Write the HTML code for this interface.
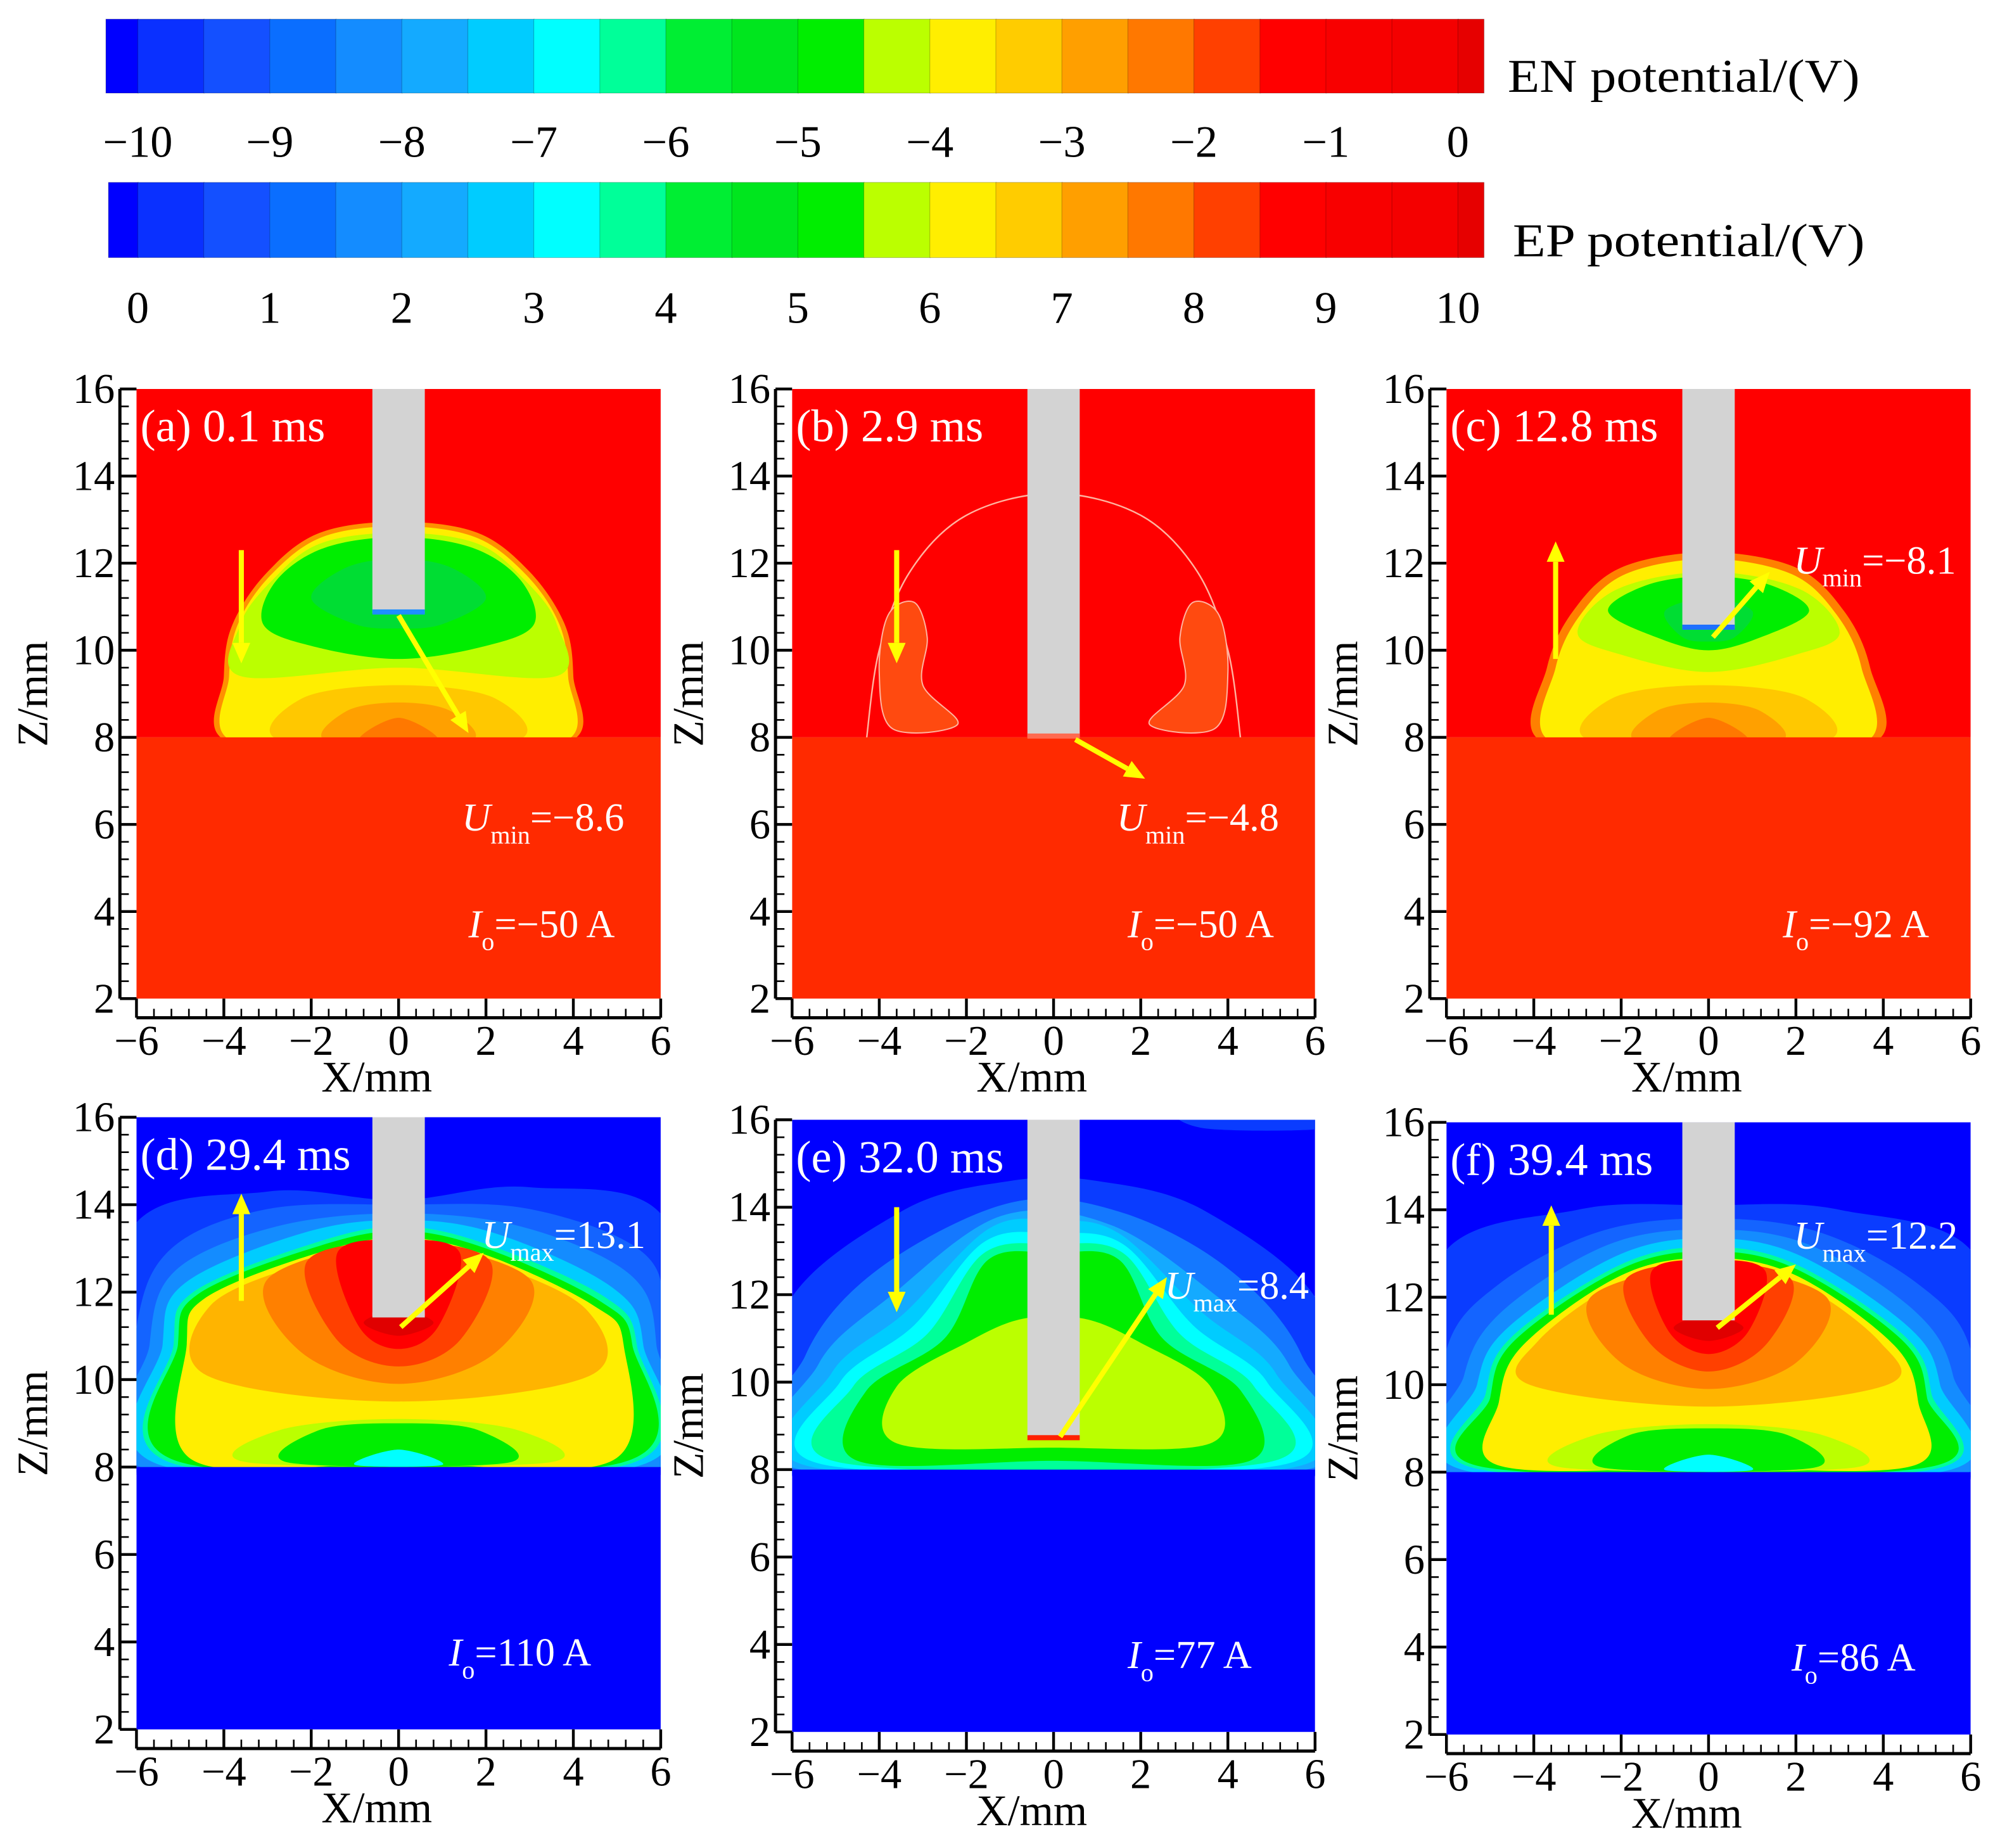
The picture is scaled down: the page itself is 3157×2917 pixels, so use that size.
<!DOCTYPE html>
<html><head><meta charset="utf-8"><style>
html,body{margin:0;padding:0;background:#fff;}
svg{display:block;font-family:"Liberation Serif",serif;}
</style></head><body>
<svg id="fig" width="3157" height="2917" viewBox="0 0 1568 1449" preserveAspectRatio="none" xmlns="http://www.w3.org/2000/svg"></svg>
<script>
// ---------- data ----------
const cbColors = ['#0000ff','#0a30ff','#1450ff','#0a6eff','#148cff','#14aaff','#00ccff','#00ffff','#00ff99','#00ee33','#00e61e','#00ee00','#bbff00','#ffee00','#ffcc00','#ff9f00','#ff7800','#ff4000','#ff0000','#f80000','#f40000','#e60000'];
const cbBounds = [-10.25,-10,-9.5,-9,-8.5,-8,-7.5,-7,-6.5,-6,-5.5,-5,-4.5,-4,-3.5,-3,-2.5,-2,-1.5,-1,-0.5,0,0.25];
const enTicks = [-10,-9,-8,-7,-6,-5,-4,-3,-2,-1,0];
const epTicks = [0,1,2,3,4,5,6,7,8,9,10];
const xTicks = [-6,-4,-2,0,2,4,6];
const zTicks = [2,4,6,8,10,12,14,16];

const layersA = [
 ['#ff9000',[[-3.9,7.9],[-4.0,9.4],[-3.8,10.6],[-3.0,11.8],[-1.8,12.7],[0,12.95],[1.8,12.7],[3.0,11.8],[3.8,10.6],[4.0,9.4],[3.9,7.9],[0,7.8]]],
 ['#ffee00',[[-3.78,7.9],[-3.88,9.4],[-3.68,10.6],[-2.93,11.72],[-1.75,12.6],[0,12.85],[1.75,12.6],[2.93,11.72],[3.68,10.6],[3.88,9.4],[3.78,7.9],[0,7.8]]],
 ['#bbff00',[[-3.6,9.4],[-3.62,10.6],[-2.9,11.6],[-1.8,12.45],[0,12.7],[1.8,12.45],[2.9,11.6],[3.62,10.6],[3.6,9.4],[0,9.6]]],
 ['#00ee00',[[-3.1,10.6],[-2.8,11.6],[-1.7,12.35],[0,12.6],[1.7,12.35],[2.8,11.6],[3.1,10.6],[2,10.1],[0,9.8],[-2,10.1]]],
 ['#00dd33',[[-2.0,11.2],[-1.2,11.9],[0,12.1],[1.2,11.9],[2.0,11.2],[1,10.6],[0,10.5],[-1,10.6]]],
 ['#ffc800',[[-2.6,7.9],[-2.2,8.9],[0,9.2],[2.2,8.9],[2.6,7.9]]],
 ['#ffa000',[[-1.6,7.9],[-1.2,8.6],[0,8.8],[1.2,8.6],[1.6,7.9]]],
 ['#ff7800',[[-0.9,7.9],[0,8.45],[0.9,7.9]]]
];
const layersB = [
 ['#ff4a10',[[-3.7,8.2],[-4.0,9.5],[-3.8,10.8],[-3.2,11.1],[-2.9,10.3],[-3.0,9.2],[-2.2,8.3]]],
 ['#ff4a10',[[3.7,8.2],[4.0,9.5],[3.8,10.8],[3.2,11.1],[2.9,10.3],[3.0,9.2],[2.2,8.3]]]
];
const layersC = [
 ['#ff8000',[[-3.8,7.9],[-3.7,9.6],[-3.1,10.9],[-2,11.9],[0,12.25],[2,11.9],[3.1,10.9],[3.7,9.6],[3.8,7.9],[0,7.8]]],
 ['#ffee00',[[-3.6,7.9],[-3.5,9.6],[-2.93,10.82],[-1.9,11.75],[0,12.1],[1.9,11.75],[2.93,10.82],[3.5,9.6],[3.6,7.9],[0,7.8]]],
 ['#bbff00',[[-3.0,10.4],[-2.1,11.4],[0,11.8],[2.1,11.4],[3.0,10.4],[2,9.9],[0,9.5],[-2,9.9]]],
 ['#00ee00',[[-2.3,10.9],[-1.4,11.5],[0,11.7],[1.4,11.5],[2.3,10.9],[1.2,10.3],[0,10.0],[-1.2,10.3]]],
 ['#00dd33',[[-1.0,10.9],[0,11.2],[1.0,10.9],[0.6,10.3],[0,10.2],[-0.6,10.3]]],
 ['#ffc800',[[-2.6,7.9],[-2.2,8.9],[0,9.2],[2.2,8.9],[2.6,7.9]]],
 ['#ffa000',[[-1.6,7.9],[-1.2,8.6],[0,8.8],[1.2,8.6],[1.6,7.9]]],
 ['#ff7800',[[-0.9,7.9],[0,8.45],[0.9,7.9]]]
];
const layersD = [
 ['#0a3cff',[[-6.2,7.9],[-6.2,13.3],[-3,14.3],[0,14.1],[3,14.4],[6.2,13.5],[6.2,7.9]]],
 ['#1464ff',[[-6.1,7.9],[-6.0,11.2],[-5.2,13.0],[-3,13.9],[0,14.0],[3,13.9],[5.6,12.9],[6.1,11.2],[6.1,7.9]]],
 ['#148cff',[[-5.6,7.9],[-5.7,10.8],[-5.1,12.5],[-2.8,13.5],[0,13.8],[2.8,13.5],[5.3,12.4],[5.9,10.8],[5.7,7.9]]],
 ['#00ccff',[[-5.3,8.0],[-5.4,10.8],[-4.9,12.2],[-2.2,13.35],[0,13.65],[2.2,13.35],[4.9,12.1],[5.6,10.8],[5.4,8.0]]],
 ['#00ff99',[[-5.05,8.05],[-5.15,10.8],[-4.7,12.0],[-2,13.1],[0,13.5],[2,13.1],[4.7,11.9],[5.45,10.8],[5.2,8.05]]],
 ['#00ee00',[[-4.95,8.1],[-5.05,10.8],[-4.6,11.95],[-2,13.0],[0,13.4],[2,13.0],[4.6,11.8],[5.35,10.8],[5.1,8.1]]],
 ['#ffee00',[[-4.7,8.15],[-4.85,10.8],[-4.45,11.85],[-2,12.85],[0,13.25],[2,12.85],[4.45,11.7],[5.15,10.8],[4.9,8.15],[0,8.1]]],
 ['#ffb400',[[-4.4,10.1],[-4.3,11.7],[-2,12.7],[0,13.1],[2,12.7],[4.3,11.6],[4.4,10.1],[0,9.5]]],
 ['#ff8000',[[-3.0,12.3],[-2.2,10.6],[0,9.9],[2.2,10.6],[3.0,12.3],[0,13.1]]],
 ['#ff4000',[[-2.1,12.7],[-1.4,10.9],[0,10.3],[1.4,10.9],[2.1,12.7],[0,13.15]]],
 ['#ff0000',[[-1.4,12.9],[-0.9,11.2],[0,10.7],[0.9,11.2],[1.4,12.9],[0,13.2]]],
 ['#e00000',[[-0.8,11.3],[0,11.0],[0.8,11.3],[0,11.6]]],
 ['#bbff00',[[-3.4,8.1],[-2.7,8.85],[0,9.1],[2.7,8.85],[3.4,8.1]]],
 ['#00ee00',[[-2.5,8.1],[-1.8,8.85],[0,9.0],[1.8,8.85],[2.5,8.1]]],
 ['#00ffff',[[-1.0,8.05],[0,8.4],[1.0,8.05]]]
];
const layersE = [
 ['#0a3cff',[[-6.2,7.9],[-6.2,11.6],[-3.5,13.9],[-1,14.6],[1,14.6],[3.5,13.9],[6.2,11.6],[6.2,7.9]]],
 ['#0a3cff',[[3,16.2],[3.5,15.8],[6.2,15.8],[6.2,16.2]]],
 ['#1478ff',[[-6.1,7.9],[-5.7,10.6],[-4,12.6],[-1,14.1],[1.5,13.9],[4,12.6],[5.7,10.6],[6.1,7.9]]],
 ['#14aaff',[[-5.8,8.0],[-5.4,10.4],[-3.7,12.0],[-1.2,13.8],[1.3,13.6],[3.7,12.0],[5.4,10.4],[5.8,8.0]]],
 ['#00ccff',[[-5.5,8.05],[-5.1,10.2],[-3.4,11.6],[-1.5,13.5],[0,13.7],[1.5,13.4],[3.4,11.6],[5.1,10.2],[5.5,8.05]]],
 ['#00ffff',[[-5.2,8.1],[-4.9,10.0],[-3.2,11.3],[-1.6,13.2],[0,13.4],[1.6,13.15],[3.2,11.3],[4.9,10.0],[5.2,8.1]]],
 ['#00ff99',[[-4.85,8.15],[-4.6,9.9],[-2.9,11.1],[-1.6,12.95],[0,13.15],[1.6,12.95],[2.9,11.1],[4.6,9.9],[4.85,8.15]]],
 ['#00ee00',[[-4.5,8.2],[-4.3,9.8],[-2.5,11.0],[-1.5,12.8],[0,12.95],[1.5,12.8],[2.5,11.0],[4.3,9.8],[4.5,8.2],[0,8.2]]],
 ['#bbff00',[[-3.6,8.6],[-3.6,9.9],[-2,10.9],[-0.7,11.45],[0.7,11.45],[2,10.9],[3.6,9.9],[3.6,8.6],[0,8.5]]]
];
const layersF = [
 ['#0a3cff',[[-6.2,7.9],[-6.2,12.8],[-3,14.0],[0,14.1],[3,14.0],[6.2,12.8],[6.2,7.9]]],
 ['#1464ff',[[-6.1,7.9],[-6.0,10.8],[-4.8,12.3],[-2.5,13.5],[0,13.8],[2.5,13.5],[4.8,12.3],[6.0,10.8],[6.1,7.9]]],
 ['#148cff',[[-5.7,7.9],[-5.6,10.2],[-4.7,11.7],[-2.3,13.2],[0,13.55],[2.3,13.2],[4.7,11.7],[5.6,10.2],[5.6,7.9]]],
 ['#00ccff',[[-5.4,8.0],[-5.3,10.0],[-4.6,11.3],[-2.1,12.95],[0,13.35],[2.1,12.95],[4.6,11.3],[5.3,10.0],[5.3,8.0]]],
 ['#00ff99',[[-5.15,8.05],[-5.1,9.8],[-4.5,11.1],[-2,12.75],[0,13.15],[2,12.75],[4.5,11.1],[5.1,9.8],[5.05,8.05]]],
 ['#00ee00',[[-5.05,8.1],[-5.0,9.7],[-4.45,11.0],[-2,12.65],[0,13.05],[2,12.65],[4.45,11.0],[5.0,9.7],[4.95,8.1]]],
 ['#ffee00',[[-4.8,8.15],[-4.8,9.6],[-4.25,10.9],[-2,12.5],[0,12.9],[2,12.5],[4.25,10.9],[4.8,9.6],[4.7,8.15],[0,8.1]]],
 ['#ffb400',[[-4.1,10.0],[-3.9,11.0],[-2,12.35],[0,12.75],[2,12.35],[3.9,11.0],[4.1,10.0],[0,9.5]]],
 ['#ff8000',[[-2.7,12.0],[-2.0,10.5],[0,9.9],[2.0,10.5],[2.7,12.0],[0,12.7]]],
 ['#ff4000',[[-1.9,12.4],[-1.3,10.9],[0,10.3],[1.3,10.9],[1.9,12.4],[0,12.8]]],
 ['#ff0000',[[-1.3,12.6],[-0.9,11.2],[0,10.7],[0.9,11.2],[1.3,12.6],[0,12.85]]],
 ['#e00000',[[-0.8,11.3],[0,11.0],[0.8,11.3],[0,11.6]]],
 ['#bbff00',[[-3.3,8.1],[-2.6,8.85],[0,9.1],[2.6,8.85],[3.3,8.1]]],
 ['#00ee00',[[-2.4,8.1],[-1.8,8.85],[0,9.0],[1.8,8.85],[2.4,8.1]]],
 ['#00ffff',[[-1.0,8.05],[0,8.4],[1.0,8.05]]]
];

const panels = [
 {id:'a',L:107,T:305,R:518,B:783,top:'#ff0000',bot:'#ff2a00',layers:layersA,tip:10.85,tipColor:'#1e90ff',title:'(a) 0.1 ms',
  vArrow:[-3.6,12.3,9.7],dArrow:[0,10.8,1.6,8.1],uSub:'min',uVal:'=\u22128.6',uPos:[1.45,6.15],io:'=\u221250 A',ioPos:[1.6,3.7]},
 {id:'b',L:621,T:305,R:1031,B:783,top:'#ff0000',bot:'#ff2a00',layers:layersB,tip:8.0,tipColor:'#ff6a50',title:'(b) 2.9 ms',
  vArrow:[-3.6,12.3,9.7],dArrow:[0.5,7.95,2.1,7.05],uSub:'min',uVal:'=\u22124.8',uPos:[1.45,6.15],io:'=\u221250 A',ioPos:[1.7,3.7]},
 {id:'c',L:1134,T:305,R:1545,B:783,top:'#ff0000',bot:'#ff2a00',layers:layersC,tip:10.5,tipColor:'#1e70ff',title:'(c) 12.8 ms',
  vArrow:[-3.5,9.8,12.5],dArrow:[0.1,10.3,1.4,11.8],uSub:'min',uVal:'=\u22128.1',uPos:[1.95,12.05],io:'=\u221292 A',ioPos:[1.7,3.7]},
 {id:'d',L:107,T:876,R:518,B:1356,top:'#0000ff',bot:'#0000ff',layers:layersD,tip:11.45,tipColor:'#d3d3d3',title:'(d) 29.4 ms',
  vArrow:[-3.6,11.8,14.25],dArrow:[0.05,11.2,1.95,12.9],uSub:'max',uVal:'=13.1',uPos:[1.9,13.3],io:'=110 A',ioPos:[1.15,3.75]},
 {id:'e',L:621,T:878,R:1031,B:1358,top:'#0000ff',bot:'#0000ff',layers:layersE,tip:8.7,tipColor:'#ff2000',title:'(e) 32.0 ms',
  vArrow:[-3.6,14.0,11.6],dArrow:[0.15,8.75,2.6,12.4],uSub:'max',uVal:'=8.4',uPos:[2.55,12.2],io:'=77 A',ioPos:[1.7,3.75]},
 {id:'f',L:1134,T:880,R:1545,B:1360,top:'#0000ff',bot:'#0000ff',layers:layersF,tip:11.5,tipColor:'#d3d3d3',title:'(f) 39.4 ms',
  vArrow:[-3.6,11.6,14.1],dArrow:[0.2,11.3,2.0,12.75],uSub:'max',uVal:'=12.2',uPos:[1.95,13.4],io:'=86 A',ioPos:[1.9,3.75]}
];

// ---------- helpers ----------
const NS='http://www.w3.org/2000/svg';
const svg=document.getElementById('fig');
function mk(tag,attrs,parent){const e=document.createElementNS(NS,tag);for(const k in attrs)e.setAttribute(k,attrs[k]);(parent||svg).appendChild(e);return e;}
function smooth(P,closed){
  const n=P.length;let d='M'+P[0][0].toFixed(1)+','+P[0][1].toFixed(1);
  const cnt=closed?n:n-1;
  for(let i=0;i<cnt;i++){
    const p0=P[(i-1+n)%n],p1=P[i],p2=P[(i+1)%n],p3=P[(i+2)%n];
    const a=(!closed&&i===0)?p1:p0, b=(!closed&&i+2>=n)?p2:p3;
    const c1=[p1[0]+(p2[0]-a[0])/6,p1[1]+(p2[1]-a[1])/6];
    const c2=[p2[0]-(b[0]-p1[0])/6,p2[1]-(b[1]-p1[1])/6];
    d+='C'+c1[0].toFixed(1)+','+c1[1].toFixed(1)+' '+c2[0].toFixed(1)+','+c2[1].toFixed(1)+' '+p2[0].toFixed(1)+','+p2[1].toFixed(1);
  }
  return d+(closed?'Z':'');
}
function arrow(g,x1,y1,x2,y2,name){
  const ang=Math.atan2(y2-y1,x2-x1),hl=16,hw=7;
  const bx=x2-hl*Math.cos(ang),by=y2-hl*Math.sin(ang);
  let e=mk('line',{x1:x1,y1:y1,x2:bx,y2:by,stroke:'#ffff00','stroke-width':4},g);
  
  
  e=mk('polygon',{points:`${x2},${y2} ${bx-hw*Math.sin(ang)},${by+hw*Math.cos(ang)} ${bx+hw*Math.sin(ang)},${by-hw*Math.cos(ang)}`,fill:'#ffff00'},g);
  
  
}

// ---------- colorbars ----------
function colorbar(y0,y1,x0,ticks,labelY,title,titleX,titleY,name){
  const cbx=v=>108+(v+10)*103.5;
  const g=mk('g',{});
  
  
  for(let i=0;i<cbColors.length;i++){
    const xa=Math.max(x0,cbx(cbBounds[i])),xb=Math.min(1163,cbx(cbBounds[i+1]));
    const r=mk('rect',{x:xa,y:y0,width:xb-xa+0.5,height:y1-y0,fill:cbColors[i],stroke:'rgba(0,0,0,0.25)','stroke-width':0.5},g);
    
    
  }
  ticks.forEach((t,i)=>{
    const tx=mk('text',{x:cbx(i-10),y:labelY,'font-size':35,'text-anchor':'middle',fill:'#000'},g);
    tx.textContent=(t<0?'\u2212'+(-t):String(t));
    
    
  });
  const tt=mk('text',{x:titleX,y:titleY,'font-size':37,fill:'#000',textLength:276,lengthAdjust:'spacingAndGlyphs'},g);
  tt.textContent=title;
  
  
}
colorbar(15,73,83,enTicks,123,'EN potential/(V)',1182,72,'en-colorbar');
colorbar(143,202,85,epTicks,253,'EP potential/(V)',1186,201,'ep-colorbar');

// ---------- panels ----------
panels.forEach(p=>{
  const sx=x=>p.L+(x+6)/12*(p.R-p.L);
  const sz=z=>p.B-(z-2)/14*(p.B-p.T);
  const g=mk('g',{});
  
  
  const cp=mk('clipPath',{id:'clip'+p.id},g);
  mk('rect',{x:p.L,y:p.T,width:p.R-p.L,height:p.B-p.T},cp);
  const pg=mk('g',{'clip-path':'url(#clip'+p.id+')'},g);
  
  
  let e=mk('rect',{x:p.L,y:sz(16),width:p.R-p.L,height:sz(8)-sz(16),fill:p.top},pg);
  
  
  if(p.id==='b'){
    e=mk('path',{d:smooth([[-4.3,7.9],[-4.0,10.0],[-3.3,11.8],[-2,13.1],[0,13.6],[2,13.1],[3.3,11.8],[4.0,10.0],[4.3,7.9]].map(q=>[sx(q[0]),sz(q[1])]),false),fill:'none',stroke:'#ffb4a0','stroke-width':1.2},pg);
    
    
  }
  p.layers.forEach(L=>{
    const pts=L[1].map(q=>[sx(q[0]),sz(q[1])]);
    e=mk('path',{d:smooth(pts,true),fill:L[0],stroke:p.id==='b'?'#ffb4a0':'none','stroke-width':1},pg);
    
    
  });
  e=mk('rect',{x:p.L,y:sz(8),width:p.R-p.L,height:sz(2)-sz(8)+1,fill:p.bot},pg);
  
  
  e=mk('rect',{x:sx(-0.6),y:sz(16),width:sx(0.6)-sx(-0.6),height:sz(p.tip)-sz(16),fill:'#d3d3d3'},pg);
  
  
  e=mk('rect',{x:sx(-0.6),y:sz(p.tip)-3,width:sx(0.6)-sx(-0.6),height:4,fill:p.tipColor},pg);
  
  
  arrow(g,sx(p.vArrow[0]),sz(p.vArrow[1]),sx(p.vArrow[0]),sz(p.vArrow[2]),'flow-arrow');
  arrow(g,sx(p.dArrow[0]),sz(p.dArrow[1]),sx(p.dArrow[2]),sz(p.dArrow[3]),'extremum-arrow');
  let t=mk('text',{x:p.L+3,y:sz(15.15)+12,'font-size':36,fill:'#fff'},g);
  t.textContent=p.title;
  
  
  t=mk('text',{x:sx(p.uPos[0]),y:sz(p.uPos[1])+10,'font-size':31,fill:'#fff'},g);
  
  
  let s=mk('tspan',{'font-style':'italic'},t);s.textContent='U';
  s=mk('tspan',{dy:10,'font-size':20},t);s.textContent=p.uSub;
  s=mk('tspan',{dy:-10},t);s.textContent=p.uVal;
  t=mk('text',{x:sx(p.ioPos[0]),y:sz(p.ioPos[1])+10,'font-size':31,fill:'#fff'},g);
  
  
  s=mk('tspan',{'font-style':'italic'},t);s.textContent='I';
  s=mk('tspan',{dy:10,'font-size':20},t);s.textContent='o';
  s=mk('tspan',{dy:-10},t);s.textContent=p.io;
  const ax=p.L-13;
  const ya=mk('g',{});g.appendChild(ya);
  
  
  mk('line',{x1:ax,y1:sz(16),x2:ax,y2:sz(2),stroke:'#000','stroke-width':2.5},ya);
  for(let z=2;z<=16.001;z+=0.4){
    const major=Math.abs(z-Math.round(z))<0.01&&Math.round(z)%2===0;
    mk('line',{x1:ax,y1:sz(z),x2:ax+(major?13:7),y2:sz(z),stroke:'#000','stroke-width':major?2.2:1.3},ya);
  }
  zTicks.forEach(z=>{
    const tl=mk('text',{x:ax-4,y:sz(z)+11,'font-size':33,'text-anchor':'end',fill:'#000'},ya);
    tl.textContent=String(z);
    
    
  });
  const zt=mk('text',{x:0,y:0,'font-size':34,'text-anchor':'middle',fill:'#000',transform:`translate(${p.L-70},${sz(9)}) rotate(-90)`},ya);
  zt.textContent='Z/mm';
  
  
  const ay=p.B+15;
  const xa=mk('g',{});g.appendChild(xa);
  
  
  mk('line',{x1:p.L,y1:ay,x2:p.R,y2:ay,stroke:'#000','stroke-width':2.5},xa);
  for(let x=-6;x<=6.001;x+=0.4){
    const major=Math.abs(x-Math.round(x))<0.01&&Math.round(x)%2===0;
    mk('line',{x1:sx(x),y1:ay,x2:sx(x),y2:ay-(major?15:7),stroke:'#000','stroke-width':major?2.2:1.3},xa);
  }
  xTicks.forEach(x=>{
    const tl=mk('text',{x:sx(x),y:ay+29,'font-size':33,'text-anchor':'middle',fill:'#000'},xa);
    tl.textContent=(x<0?'\u2212'+(-x):String(x));
    
    
  });
  const xt=mk('text',{x:sx(-0.5),y:ay+58,'font-size':34,'text-anchor':'middle',fill:'#000'},xa);
  xt.textContent='X/mm';
  
  
});
</script>
</body></html>
